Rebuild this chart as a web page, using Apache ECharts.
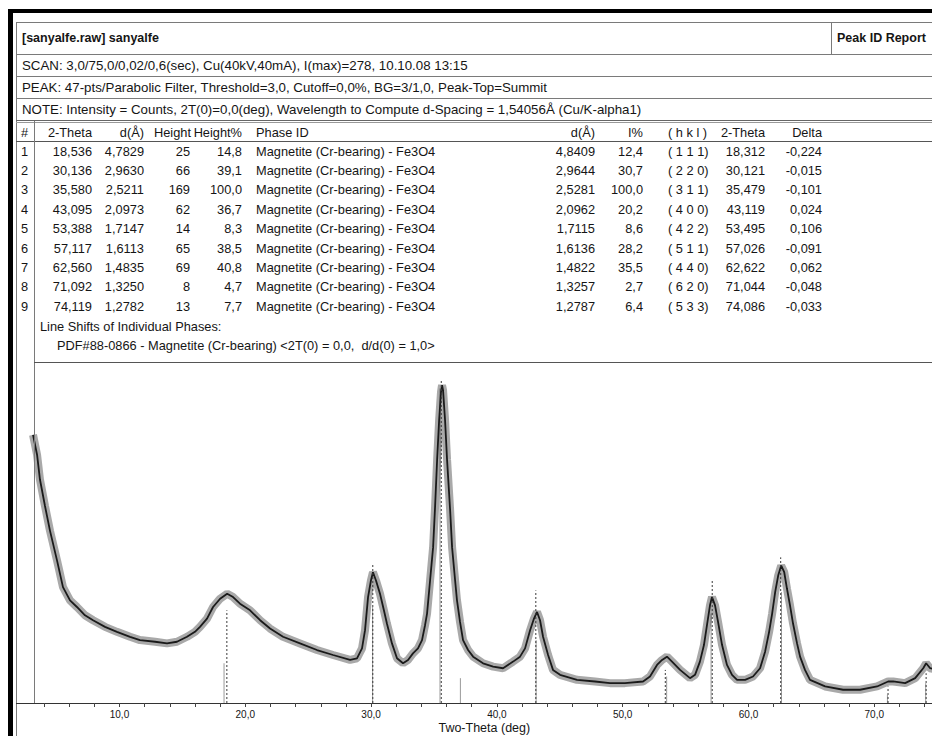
<!DOCTYPE html>
<html>
<head>
<meta charset="utf-8">
<script src="https://cdn.jsdelivr.net/npm/echarts@6/dist/echarts.min.js"></script>
<style>
html,body{margin:0;padding:0;background:#fff;}
#chart{width:932px;height:736px;}
</style>
</head>
<body>
<div id="chart"></div>
<script>
const peakNo = [1, 2, 3, 4, 5, 6, 7, 8, 9];
const twoTheta = [18.536, 30.136, 35.580, 43.095, 53.388, 57.117, 62.560, 71.092, 74.119];
const dSpacing = [4.7829, 2.9630, 2.5211, 2.0973, 1.7147, 1.6113, 1.4835, 1.3250, 1.2782];
const heightCounts = [25, 66, 169, 62, 14, 65, 69, 8, 13];
const heightPct = [14.8, 39.1, 100.0, 36.7, 8.3, 38.5, 40.8, 4.7, 7.7];
const phaseId = 'Magnetite (Cr-bearing) - Fe3O4';
const refD = [4.8409, 2.9644, 2.5281, 2.0962, 1.7115, 1.6136, 1.4822, 1.3257, 1.2787];
const refI = [12.4, 30.7, 100.0, 20.2, 8.6, 28.2, 35.5, 2.7, 6.4];
const hkl = ['( 1 1 1)', '( 2 2 0)', '( 3 1 1)', '( 4 0 0)', '( 4 2 2)', '( 5 1 1)', '( 4 4 0)', '( 6 2 0)', '( 5 3 3)'];
const refTwoTheta = [18.312, 30.121, 35.479, 43.119, 53.495, 57.026, 62.622, 71.044, 74.086];
const delta = [-0.224, -0.015, -0.101, 0.024, 0.106, -0.091, 0.062, -0.048, -0.033];

// scan (2-theta, counts)
const scanTheta = [3.13,3.45,3.68,4.08,4.48,5.04,5.51,6.07,6.62,7.26,7.90,8.85,9.80,10.84,11.63,12.83,13.78,14.57,15.37,16.00,16.40,16.96,17.44,18.00,18.56,19.03,19.58,20.38,21.18,21.97,23.00,24.35,25.70,26.98,28.33,28.88,29.28,29.52,29.76,29.99,30.15,30.39,30.71,31.02,31.26,31.66,32.06,32.54,32.94,33.33,33.73,34.05,34.29,34.45,34.69,34.93,35.09,35.25,35.41,35.56,35.64,35.72,35.88,36.04,36.28,36.44,36.68,36.83,37.07,37.31,37.71,38.11,38.90,39.70,40.49,41.29,41.84,42.24,42.64,42.95,43.19,43.43,43.67,44.07,44.46,45.02,46.37,47.80,48.99,50.18,51.62,52.17,52.73,53.13,53.52,53.92,54.56,55.35,55.75,56.14,56.46,56.70,56.94,57.10,57.34,57.58,57.90,58.29,58.69,59.09,59.73,60.36,60.92,61.32,61.64,61.88,62.12,62.36,62.60,62.84,63.06,63.30,63.54,63.86,64.10,64.49,64.89,66.09,67.52,68.87,70.22,71.10,71.50,72.45,73.25,73.89,74.12,74.44,75.00];
const scanCounts = [248,236,221,205,190,172,156,148,144,139,136,132,129,126,124,123,122,123,126,129,132,137,144,149,152,150,146,142,136,131,126,122,118,115,112,113,119,130,150,160,165,160,152,142,134,122,113,110,112,116,119,124,133,140,160,180,205,233,257,274,278,275,257,233,203,180,160,148,135,124,118,114,110,108,107,111,114,119,130,137,141,136,126,115,106,103,100,99,98,98,99,102,109,112,114,111,106,101,103,111,121,133,145,150,145,135,121,109,103,100,100,102,107,117,129,140,153,163,169,165,155,145,134,122,114,106,100,96,94,94,96,99,99,98,101,107,110,107,106];

// dotted peak markers (top in counts) and reference sticks
const peakTop = [142, 170, 281, 154, 106, 160, 174, 96, 104];
const stickTheta = [18.312, 30.121, 35.479, 37.10, 43.119, 53.495, 57.026, 62.622, 71.044, 74.086];
const stickTop = [110, 144, 276, 101, 124, 102, 140, 153, 91, 98];

// axis
const xMin = 3, xMax = 75;
const yMin = 86, yMax = 292;
const xLabelValues = [10, 20, 30, 40, 50, 60, 70];
const xTickValues = [4,6,8,10,12,14,16,18,20,22,24,26,28,30,32,34,36,38,40,42,44,46,48,50,52,54,56,58,60,62,64,66,68,70,72,74];

const headerLines = [
  'SCAN: 3,0/75,0/0,02/0,6(sec), Cu(40kV,40mA), I(max)=278, 10.10.08 13:15',
  'PEAK: 47-pts/Parabolic Filter, Threshold=3,0, Cutoff=0,0%, BG=3/1,0, Peak-Top=Summit',
  'NOTE: Intensity = Counts, 2T(0)=0,0(deg), Wavelength to Compute d-Spacing = 1,54056Å (Cu/K-alpha1)'
];

// ---------- rendering ----------
const FONT = '"Liberation Sans", Arial, sans-serif';
const TS = 12.8;
const fmt = (v, n) => v.toFixed(n).replace('.', ',');
const chart = echarts.init(document.getElementById('chart'), null, {renderer: 'svg'});

const els = [];
function txt(x, y, s, align, size, bold) {
  els.push({type: 'text', x: x, y: y, silent: true, z: 10,
    style: {text: s, align: align || 'left', verticalAlign: 'middle',
      textAlign: align || 'left', textVerticalAlign: 'middle',
      fill: '#151515', font: (bold ? 'bold ' : '') + (size || TS) + 'px ' + FONT}});
}
function ln(x1, y1, x2, y2, c, w) {
  els.push({type: 'line', silent: true, z: 9, shape: {x1: x1, y1: y1, x2: x2, y2: y2},
    style: {stroke: c || '#7a7a7a', lineWidth: w || 1}});
}
// outer thick border
els.push({type: 'rect', silent: true, z: 11, shape: {x: 8, y: 9, width: 924, height: 4}, style: {fill: '#000'}});
els.push({type: 'rect', silent: true, z: 11, shape: {x: 8, y: 9, width: 5, height: 727}, style: {fill: '#000'}});
// frame and table lines
ln(16, 22.5, 932, 22.5);
ln(16.5, 22, 16.5, 736);
ln(16, 54.5, 932, 54.5);
ln(16, 76.5, 932, 76.5);
ln(16, 98.5, 932, 98.5);
ln(16, 120.5, 932, 120.5, '#666');
ln(16, 122.5, 932, 122.5, '#999');
ln(16, 141.5, 932, 141.5, '#555');
ln(831.5, 22, 831.5, 54);
ln(34.5, 121, 34.5, 703);
ln(34, 362.5, 932, 362.5, '#555');
ln(16, 703.5, 32, 703.5, '#333');

txt(22, 38, '[sanyalfe.raw] sanyalfe', 'left', 12.5, true);
txt(837, 38, 'Peak ID Report', 'left', 12.5, true);
txt(22, 65, headerLines[0], 'left', 13.3);
txt(22, 87, headerLines[1], 'left', 13.3);
txt(22, 109, headerLines[2], 'left', 13.3);

const hy = 132;
txt(21, hy, '#');
txt(92, hy, '2-Theta', 'right');
txt(144, hy, 'd(Å)', 'right');
txt(191, hy, 'Height', 'right');
txt(242, hy, 'Height%', 'right');
txt(256, hy, 'Phase ID');
txt(595, hy, 'd(Å)', 'right');
txt(643, hy, 'I%', 'right');
txt(668, hy, '( h k l )');
txt(765, hy, '2-Theta', 'right');
txt(822, hy, 'Delta', 'right');
for (let i = 0; i < peakNo.length; i++) {
  const y = 151 + 19.4 * i;
  txt(21, y, String(peakNo[i]));
  txt(92, y, fmt(twoTheta[i], 3), 'right');
  txt(144, y, fmt(dSpacing[i], 4), 'right');
  txt(190, y, String(heightCounts[i]), 'right');
  txt(242, y, fmt(heightPct[i], 1), 'right');
  txt(256, y, phaseId);
  txt(595, y, fmt(refD[i], 4), 'right');
  txt(643, y, fmt(refI[i], 1), 'right');
  txt(668, y, hkl[i]);
  txt(765, y, fmt(refTwoTheta[i], 3), 'right');
  txt(822, y, fmt(delta[i], 3), 'right');
}
txt(40, 326, 'Line Shifts of Individual Phases:');
txt(57, 345, 'PDF#88-0866 - Magnetite (Cr-bearing) <2T(0) = 0,0,  d/d(0) = 1,0>');

const scanData = scanTheta.map((t, i) => [t, scanCounts[i]]);

function vlineSeries(name, xs, tops, style, z) {
  return {
    type: 'custom', name: name, z: z, silent: true,
    data: xs.map((t, i) => [t, tops[i]]),
    renderItem: function (params, api) {
      const p0 = api.coord([api.value(0), yMin]);
      const p1 = api.coord([api.value(0), api.value(1)]);
      return {type: 'line', shape: {x1: p0[0], y1: p0[1], x2: p1[0], y2: p1[1]}, style: style};
    }
  };
}

chart.setOption({
  animation: false,
  backgroundColor: '#ffffff',
  grid: {left: 31.4, top: 362, width: 905.8, height: 341, outerBoundsMode: 'none', containLabel: false},
  xAxis: {
    type: 'value', min: xMin, max: xMax,
    axisLine: {show: true, onZero: false, lineStyle: {color: '#333', width: 1}},
    axisTick: {show: true, customValues: xTickValues, length: 4, lineStyle: {color: '#444'}},
    axisLabel: {customValues: xLabelValues, formatter: v => fmt(v, 1), fontSize: 10,
      color: '#151515', margin: 6, fontFamily: FONT},
    splitLine: {show: false},
    name: 'Two-Theta (deg)', nameLocation: 'middle', nameGap: 18,
    nameTextStyle: {fontSize: 12.5, color: '#151515', fontFamily: FONT}
  },
  yAxis: {type: 'value', min: yMin, max: yMax, show: false, splitLine: {show: false}},
  series: [
    {type: 'line', data: scanData, showSymbol: false, symbol: 'none', silent: true, z: 2,
      lineStyle: {color: 'rgba(50,50,50,0.42)', width: 8}},
    {type: 'line', data: scanData, showSymbol: false, symbol: 'none', silent: true, z: 3,
      lineStyle: {color: '#1a1a1a', width: 1.8}},
    vlineSeries('sticks', stickTheta, stickTop, {stroke: '#9a9a9a', lineWidth: 1}, 1),
    vlineSeries('peaks', twoTheta, peakTop, {stroke: '#3a3a3a', lineWidth: 1, lineDash: [2, 2]}, 4)
  ],
  graphic: {elements: els}
});
</script>
</body>
</html>
